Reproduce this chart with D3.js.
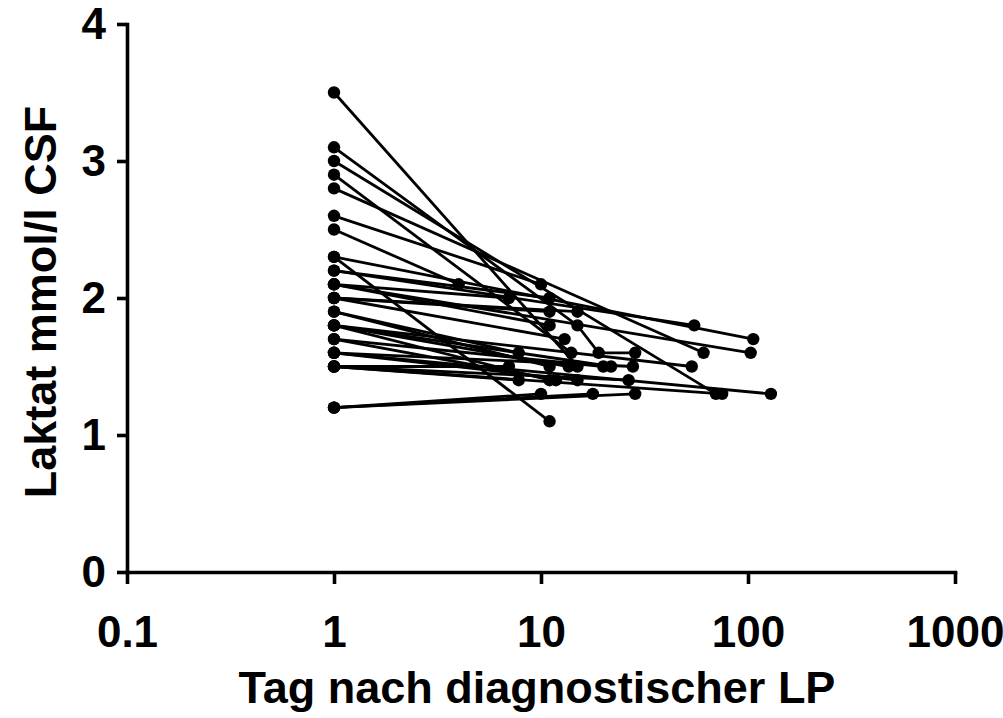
<!DOCTYPE html>
<html>
<head>
<meta charset="utf-8">
<script src="https://cdn.jsdelivr.net/npm/d3@7"></script>
<style>
  body { margin: 0; background: #fff; }
  text { font-family: "Liberation Sans", Arial, sans-serif; font-weight: bold; }
</style>
</head>
<body>
<script>
// one entry per patient: days after diagnostic LP and lactate (mmol/l CSF)
var patientDays = [
  [1, 15], [1, 15, 19, 28.5], [1, 70], [1, 14], [1, 61], [1, 10], [1, 4],
  [1, 11], [1, 106], [1, 55], [1, 11], [1, 103], [1, 7], [1, 11],
  [1, 11], [1, 15], [1, 13], [1, 7.8], [1, 11], [1, 53.5], [1, 13.6],
  [1, 11], [1, 21.8], [1, 20], [1, 11.8], [1, 129], [1, 27.8], [1, 15],
  [1, 7], [1, 7.8], [1, 26.5], [1, 75], [1, 10], [1, 17.8], [1, 28.5]
];
var patientLactate = [
  [3.5, 1.5], [3.1, 1.8, 1.6, 1.6], [3.0, 1.3], [2.9, 1.6], [2.8, 1.6], [2.6, 2.1], [2.5, 2.1],
  [2.3, 1.1], [2.3, 1.7], [2.2, 1.8], [2.2, 2.0], [2.1, 1.6], [2.1, 2.0], [2.1, 1.8],
  [2.0, 1.9], [2.0, 1.9], [2.0, 1.7], [1.9, 1.6], [1.9, 1.5], [1.8, 1.5], [1.8, 1.5],
  [1.8, 1.4], [1.8, 1.5], [1.7, 1.5], [1.7, 1.4], [1.6, 1.3], [1.6, 1.5], [1.6, 1.4],
  [1.5, 1.5], [1.5, 1.4], [1.5, 1.4], [1.5, 1.3], [1.2, 1.3], [1.2, 1.3], [1.2, 1.3]
];
var xTicks = [0.1, 1, 10, 100, 1000];
var yTicks = [0, 1, 2, 3, 4];

var width = 1003, height = 718;

var svg = d3.select("body").append("svg")
  .attr("width", width)
  .attr("height", height);

var x = d3.scaleLog().domain([0.1, 1000]).range([127, 955]);
var y = d3.scaleLinear().domain([0, 4]).range([572, 24]);

// build point lists
var series = patientDays.map(function (days, i) {
  return days.map(function (d, j) { return [d, patientLactate[i][j]]; });
});

var line = d3.line()
  .x(function (d) { return x(d[0]); })
  .y(function (d) { return y(d[1]); });

var plot = svg.append("g");

plot.selectAll("path.patient")
  .data(series)
  .enter()
  .append("path")
  .attr("class", "patient")
  .attr("d", line)
  .attr("fill", "none")
  .attr("stroke", "#000")
  .attr("stroke-width", 2.8);

plot.selectAll("circle")
  .data(d3.merge(series))
  .enter()
  .append("circle")
  .attr("cx", function (d) { return x(d[0]); })
  .attr("cy", function (d) { return y(d[1]); })
  .attr("r", 6.2)
  .attr("fill", "#000");

// axes
var xAxis = svg.append("g")
  .attr("transform", "translate(0," + y(0) + ")")
  .call(d3.axisBottom(x).tickValues(xTicks).tickSize(12).tickSizeOuter(0)
    .tickFormat(function (d) { return d3.format("")(d); }));

var yAxis = svg.append("g")
  .attr("transform", "translate(" + x(0.1) + ",0)")
  .call(d3.axisLeft(y).tickValues(yTicks).tickSize(10).tickSizeOuter(0)
    .tickFormat(d3.format("d")));

[xAxis, yAxis].forEach(function (ax) {
  ax.select(".domain").attr("stroke-width", 3.6).attr("stroke-linecap", "square");
  ax.selectAll(".tick line").attr("stroke-width", 3.6);
  ax.selectAll(".tick text")
    .attr("font-size", 44)
    .attr("font-family", "'Liberation Sans', Arial, sans-serif")
    .attr("font-weight", "bold")
    .attr("fill", "#000");
});
xAxis.selectAll(".tick text").attr("y", 44);
yAxis.selectAll(".tick text").attr("x", -21);

// titles
svg.append("text")
  .attr("x", 537)
  .attr("y", 703)
  .attr("text-anchor", "middle")
  .attr("font-size", 45)
  .text("Tag nach diagnostischer LP");

svg.append("text")
  .attr("transform", "translate(56,302) rotate(-90)")
  .attr("text-anchor", "middle")
  .attr("font-size", 45)
  .text("Laktat mmol/l CSF");
</script>
</body>
</html>
